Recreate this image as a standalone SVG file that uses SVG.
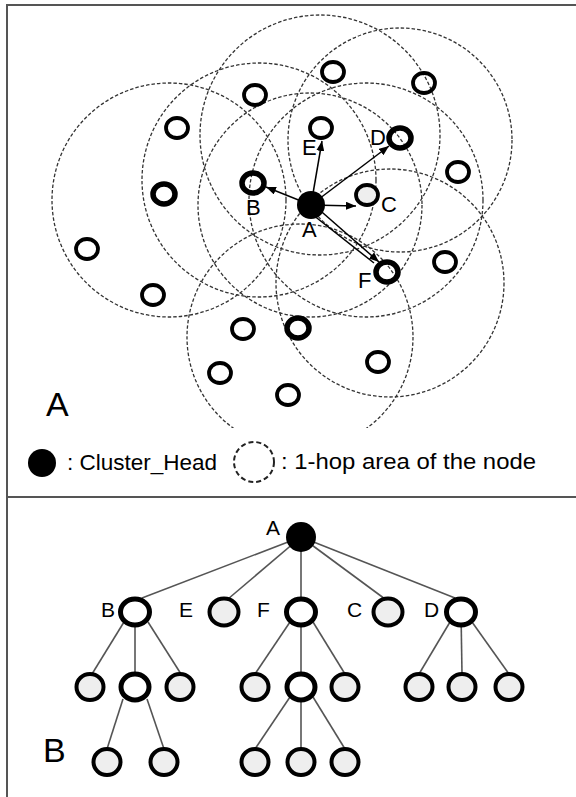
<svg xmlns="http://www.w3.org/2000/svg" width="576" height="797" viewBox="0 0 576 797">
<style>
.hop{fill:none;stroke:#333;stroke-width:1.3;stroke-dasharray:3.5 2}
.n{fill:none;stroke:#000;stroke-width:3.8}
.nt{fill:none;stroke:#000;stroke-width:5.5}
.ng{fill:#eeeeee;stroke:#000;stroke-width:3.8}
.arr{stroke:#000;stroke-width:1.5;fill:none}
.lbl{font-family:"Liberation Sans",Arial,sans-serif;font-size:22px;fill:#000}
.tl{font-family:"Liberation Sans",Arial,sans-serif;font-size:21px;fill:#000}
.big{font-family:"Liberation Sans",Arial,sans-serif;font-size:34px;fill:#000}
.leg{font-family:"Liberation Sans",Arial,sans-serif;font-size:22px;fill:#000}
.edge{stroke:#555;stroke-width:1.6;fill:none}
.tw{fill:#fff;stroke:#000;stroke-width:5}
.tg{fill:#eeeeee;stroke:#000;stroke-width:4}
</style>
<defs>
<marker id="ah" markerUnits="userSpaceOnUse" markerWidth="10" markerHeight="8" refX="10" refY="4" orient="auto">
<path d="M0,0 L10,4 L0,8 z" fill="#000"/>
</marker>
<clipPath id="cl"><rect x="0" y="0" width="576" height="428"/></clipPath>
</defs>
<g id="frame">
<rect x="7" y="5" width="580" height="800" fill="none" stroke="#555" stroke-width="2"/>
<line x1="7" y1="497" x2="576" y2="497" stroke="#555" stroke-width="2"/>
</g>
<g id="hop-areas">
<circle class="hop" cx="169" cy="200" r="117"/>
<circle class="hop" cx="259" cy="180" r="117"/>
<circle class="hop" cx="320" cy="135" r="120"/>
<circle class="hop" cx="400" cy="140" r="112"/>
<circle class="hop" cx="366" cy="200" r="117"/>
<circle class="hop" cx="310" cy="205" r="112"/>
<circle class="hop" cx="390" cy="283" r="114"/>
<circle class="hop" cx="300" cy="337" r="113" clip-path="url(#cl)"/>
</g>
<g id="top-nodes">
<ellipse class="n" cx="255" cy="95" rx="11" ry="10"/>
<ellipse class="n" cx="177" cy="128" rx="11" ry="10"/>
<ellipse class="n" cx="333" cy="72" rx="11" ry="10"/>
<ellipse class="n" cx="424" cy="83" rx="11" ry="10"/>
<ellipse class="n" cx="458" cy="172" rx="11" ry="10"/>
<ellipse class="n" cx="87" cy="249" rx="11" ry="10"/>
<ellipse class="n" cx="153" cy="295" rx="11" ry="10"/>
<ellipse class="n" cx="243" cy="329" rx="11" ry="10"/>
<ellipse class="n" cx="220" cy="373" rx="11" ry="10"/>
<ellipse class="n" cx="288" cy="395" rx="11" ry="10"/>
<ellipse class="n" cx="378" cy="362" rx="11" ry="10"/>
<ellipse class="n" cx="445" cy="262" rx="11" ry="10"/>
<ellipse class="nt" cx="164" cy="194" rx="11" ry="10"/>
<ellipse class="nt" cx="298" cy="328" rx="11" ry="10"/>
</g>
<g id="node-B"><ellipse class="nt" cx="253" cy="183" rx="11" ry="10"/><text class="lbl" x="246" y="215">B</text></g>
<g id="node-E"><ellipse class="n" cx="321" cy="128" rx="11" ry="10"/><text class="lbl" x="302" y="155">E</text></g>
<g id="node-D"><ellipse class="nt" cx="400" cy="138" rx="11" ry="10"/><text class="lbl" x="370" y="145">D</text></g>
<g id="node-C"><ellipse class="ng" cx="367" cy="195" rx="11" ry="10"/><text class="lbl" x="381" y="212">C</text></g>
<g id="node-F"><ellipse class="nt" cx="387" cy="272" rx="11" ry="10"/><text class="lbl" x="358" y="288">F</text></g>
<g id="arrows">
<line class="arr" x1="311" y1="205" x2="266" y2="187" marker-end="url(#ah)"/>
<line class="arr" x1="311" y1="205" x2="322" y2="141" marker-end="url(#ah)"/>
<line class="arr" x1="311" y1="205" x2="389" y2="146" marker-end="url(#ah)"/>
<line class="arr" x1="311" y1="205" x2="356" y2="206" marker-end="url(#ah)"/>
<line class="arr" x1="308" y1="211" x2="374" y2="263"/>
<line class="arr" x1="315" y1="206" x2="379" y2="262" marker-end="url(#ah)"/>
</g>
<g id="node-A"><circle cx="311" cy="205" r="14" fill="#000"/><text class="lbl" x="302" y="237">A</text></g>
<g id="label-A-big"><text class="big" x="46" y="416">A</text></g>
<g id="legend">
<circle cx="42" cy="463" r="14" fill="#000"/>
<text class="leg" x="67" y="470" textLength="150" lengthAdjust="spacingAndGlyphs">: Cluster_Head</text>
<ellipse cx="254" cy="462" rx="20" ry="20" fill="none" stroke="#222" stroke-width="2" stroke-dasharray="5 3"/>
<text class="leg" x="281" y="469" textLength="255" lengthAdjust="spacingAndGlyphs">: 1-hop area of the node</text>
</g>
<g id="tree-edges">
<line class="edge" x1="301" y1="537" x2="142" y2="598"/>
<line class="edge" x1="301" y1="537" x2="228" y2="599"/>
<line class="edge" x1="301" y1="537" x2="301" y2="599"/>
<line class="edge" x1="301" y1="537" x2="385" y2="599"/>
<line class="edge" x1="301" y1="537" x2="455" y2="598"/>
<line class="edge" x1="124" y1="622" x2="92" y2="674"/>
<line class="edge" x1="135" y1="612" x2="135" y2="674"/>
<line class="edge" x1="148" y1="622" x2="181" y2="674"/>
<line class="edge" x1="123" y1="699" x2="107" y2="749"/>
<line class="edge" x1="147" y1="699" x2="164" y2="749"/>
<line class="edge" x1="290" y1="622" x2="255" y2="674"/>
<line class="edge" x1="301" y1="612" x2="301" y2="674"/>
<line class="edge" x1="313" y1="622" x2="345" y2="674"/>
<line class="edge" x1="290" y1="697" x2="255" y2="749"/>
<line class="edge" x1="301" y1="687" x2="301" y2="749"/>
<line class="edge" x1="313" y1="697" x2="345" y2="749"/>
<line class="edge" x1="450" y1="622" x2="419" y2="674"/>
<line class="edge" x1="461" y1="612" x2="462" y2="674"/>
<line class="edge" x1="472" y1="622" x2="509" y2="674"/>
</g>
<g id="t-A"><circle cx="301" cy="537" r="15" fill="#000"/><text class="tl" x="266" y="535">A</text></g>
<g id="t-B"><ellipse class="tw" cx="135" cy="612" rx="14.5" ry="13"/><text class="tl" x="101" y="617">B</text></g>
<g id="t-E"><ellipse class="tg" cx="224" cy="612" rx="14.5" ry="13.5"/><text class="tl" x="179" y="617">E</text></g>
<g id="t-F"><ellipse class="tw" cx="301" cy="612" rx="14.5" ry="13"/><text class="tl" x="257" y="617">F</text></g>
<g id="t-C"><ellipse class="tg" cx="388" cy="612" rx="14.5" ry="13.5"/><text class="tl" x="347" y="617">C</text></g>
<g id="t-D"><ellipse class="tw" cx="461" cy="612" rx="14.5" ry="13"/><text class="tl" x="424" y="617">D</text></g>
<g id="t-B1"><ellipse class="tg" cx="90" cy="687" rx="13.5" ry="13"/></g>
<g id="t-B2"><ellipse class="tw" cx="135" cy="687" rx="14" ry="13"/></g>
<g id="t-B3"><ellipse class="tg" cx="180" cy="687" rx="13.5" ry="13"/></g>
<g id="t-F1"><ellipse class="tg" cx="255" cy="687" rx="13.5" ry="13"/></g>
<g id="t-F2"><ellipse class="tw" cx="301" cy="687" rx="14" ry="13"/></g>
<g id="t-F3"><ellipse class="tg" cx="345" cy="687" rx="13.5" ry="13"/></g>
<g id="t-D1"><ellipse class="tg" cx="419" cy="687" rx="13.5" ry="13"/></g>
<g id="t-D2"><ellipse class="tg" cx="462" cy="687" rx="13.5" ry="13"/></g>
<g id="t-D3"><ellipse class="tg" cx="509" cy="687" rx="13.5" ry="13"/></g>
<g id="t-B21"><ellipse class="tg" cx="107" cy="762" rx="13.5" ry="13"/></g>
<g id="t-B22"><ellipse class="tg" cx="164" cy="762" rx="13.5" ry="13"/></g>
<g id="t-F21"><ellipse class="tg" cx="255" cy="762" rx="13.5" ry="13"/></g>
<g id="t-F22"><ellipse class="tg" cx="301" cy="762" rx="13.5" ry="13"/></g>
<g id="t-F23"><ellipse class="tg" cx="345" cy="762" rx="13.5" ry="13"/></g>
<g id="label-B-big"><text class="big" x="43" y="762">B</text></g>
</svg>
